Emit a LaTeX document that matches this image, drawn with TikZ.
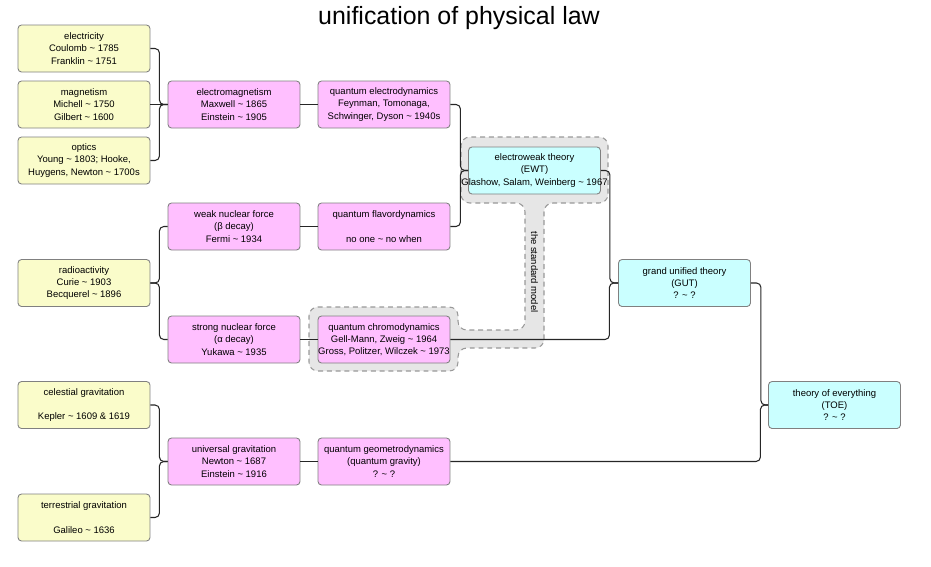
\documentclass[tikz,border=0pt]{standalone}
\usepackage{fontspec}
\setmainfont{Liberation Sans}
\usetikzlibrary{shapes}
\newcommand{\tld}{\textasciitilde}
\definecolor{classical}{RGB}{250,252,202}
\definecolor{quantum}{RGB}{255,191,255}
\definecolor{unified}{RGB}{202,255,255}
\definecolor{modelgray}{RGB}{230,230,230}
\tikzset{
  law/.style={draw=black!50, line width=0.5pt, rounded corners=2pt,
    minimum width=2.64cm, minimum height=0.94cm, inner sep=0pt,
    align=center, font=\fontsize{5.4}{6.9}\selectfont},
  classic/.style={law, fill=classical},
  qlaw/.style={law, fill=quantum},
  ulaw/.style={law, fill=unified},
  link/.style={draw=black!85, line width=0.6pt, rounded corners=2.5pt}
}

\begin{document}
\begin{tikzpicture}[x=0.02cm,y=-0.02cm]
\useasboundingbox (0,0) rectangle (931,566);

\node[font=\fontsize{14.2}{17}\selectfont] (title) at (459,18) {unification of physical law};

% the standard model
\draw[fill=modelgray, draw=black!40, line width=0.6pt, dash pattern=on 2.8pt off 2.2pt, rounded corners=5pt]
  (309,307) -- (458,307) -- (458,330) -- (525,330) -- (525,203) -- (461,203) -- (461,137)
  -- (608,137) -- (608,203) -- (544,203) -- (544,348) -- (458,348) -- (458,371) -- (309,371) -- cycle;
\node[rotate=-90, font=\fontsize{5.4}{6.9}\selectfont] (stdmodel) at (534.5,272) {the standard model};

\node[classic] (electricity) at (84,48.5) {electricity\\Coulomb \tld{} 1785\\Franklin \tld{} 1751};
\node[classic] (magnetism) at (84,104.5) {magnetism\\Michell \tld{} 1750\\Gilbert \tld{} 1600};
\node[classic] (optics) at (84,160.5) {optics\\Young \tld{} 1803; Hooke,\\Huygens, Newton \tld{} 1700s};
\node[classic] (radioactivity) at (84,283) {radioactivity\\Curie \tld{} 1903\\Becquerel \tld{} 1896};
\node[classic] (celestial) at (84,405) {celestial gravitation\\[6.9pt]Kepler \tld{} 1609 \& 1619};
\node[classic] (terrestrial) at (84,517.5) {terrestrial gravitation\\[6.9pt]Galileo \tld{} 1636};

\node[qlaw] (electromagnetism) at (234,104.5) {electromagnetism\\Maxwell \tld{} 1865\\Einstein \tld{} 1905};
\node[qlaw] (weak) at (234,226.5) {weak nuclear force\\(β decay)\\Fermi \tld{} 1934};
\node[qlaw] (strong) at (234,339.5) {strong nuclear force\\(α decay)\\Yukawa \tld{} 1935};
\node[qlaw] (universal) at (234,461.5) {universal gravitation\\Newton \tld{} 1687\\Einstein \tld{} 1916};

\node[qlaw] (qed) at (384,104.5) {quantum electrodynamics\\Feynman, Tomonaga,\\Schwinger, Dyson \tld{} 1940s};
\node[qlaw] (qfd) at (384,226.5) {quantum flavordynamics\\[6.9pt]no one \tld{} no when};
\node[qlaw] (qcd) at (384,339.5) {quantum chromodynamics\\Gell-Mann, Zweig \tld{} 1964\\\makebox[0pt]{Gross, Politzer, Wilczek \tld{} 1973}};
\node[qlaw] (qgd) at (384,461.5) {quantum geometrodynamics\\(quantum gravity)\\? \tld{} ?};

\node[ulaw] (ewt) at (534.5,170.5) {electroweak theory\\(EWT)\\\makebox[0pt]{Glashow, Salam, Weinberg \tld{} 1967}};
\node[ulaw] (gut) at (684.5,283) {grand unified theory\\(GUT)\\? \tld{} ?};
\node[ulaw] (toe) at (834.5,405) {theory of everything\\(TOE)\\? \tld{} ?};

\draw[link] (electricity.east) -- ++(9,0) |- (electromagnetism.west);
\draw[link] (magnetism.east) -- (electromagnetism.west);
\draw[link] (optics.east) -- ++(9,0) |- (electromagnetism.west);
\draw[link] (radioactivity.east) -- ++(9,0) |- (weak.west);
\draw[link] (radioactivity.east) -- ++(9,0) |- (strong.west);
\draw[link] (celestial.east) -- ++(9,0) |- (universal.west);
\draw[link] (terrestrial.east) -- ++(9,0) |- (universal.west);

\draw[link] (electromagnetism) -- (qed);
\draw[link] (weak) -- (qfd);
\draw[link] (strong) -- (qcd);
\draw[link] (universal) -- (qgd);

\draw[link] (qed.east) -- ++(10,0) |- (ewt.west);
\draw[link] (qfd.east) -- ++(10,0) |- (ewt.west);
\draw[link] (ewt.east) -- ++(9,0) |- (gut.west);
\draw[link] (qcd.east) -- ++(159,0) |- (gut.west);
\draw[link] (gut.east) -- ++(10,0) |- (toe.west);
\draw[link] (qgd.east) -- ++(310,0) |- (toe.west);

\end{tikzpicture}
\end{document}
